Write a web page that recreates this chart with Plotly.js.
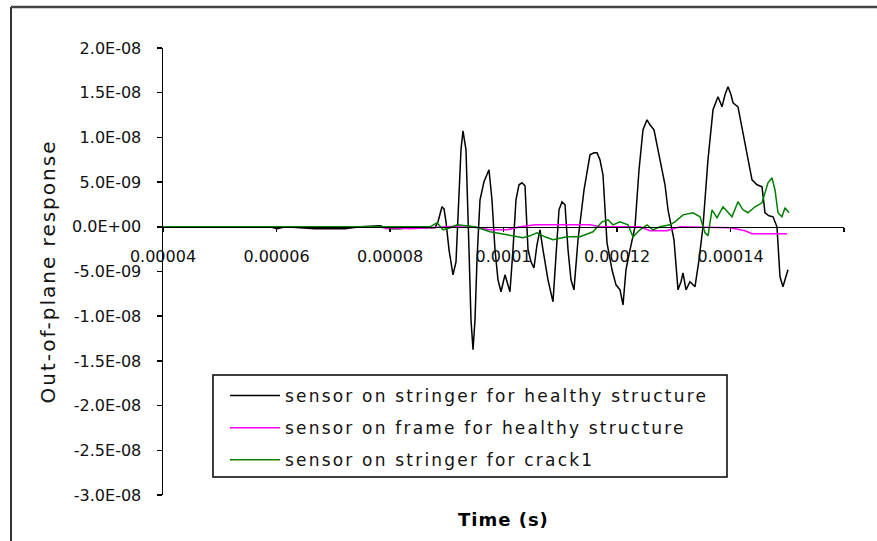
<!DOCTYPE html>
<html>
<head>
<meta charset="utf-8">
<script src="https://cdn.plot.ly/plotly-3.0.1.min.js"></script>
<style>
  html, body { margin: 0; padding: 0; background: #fff; }
  #chart { width: 877px; height: 541px; }
  .legendtext { letter-spacing: 2.2px; }
  text[data-unformatted="Out-of-plane response"] { letter-spacing: 2px; }
  text[data-unformatted="Time (s)"] { letter-spacing: 1px; }
</style>
</head>
<body>
<div id="chart"></div>
<script>
// Time in microseconds, response in units of 1e-9
const stringerHealthyTimeUs = [40.00, 58.85, 60.09, 61.50, 64.14, 66.78, 69.43, 72.07, 74.71, 76.83, 78.24, 80.00, 81.76, 83.52, 86.17, 87.93, 88.46, 89.16, 89.52, 89.87, 90.40, 91.10, 91.63, 92.16, 92.51, 92.86, 93.39, 93.92, 94.27, 94.63, 94.98, 95.33, 95.86, 96.56, 97.09, 97.44, 97.97, 98.50, 99.03, 99.56, 100.26, 100.79, 101.14, 101.67, 102.20, 102.73, 103.26, 103.79, 104.32, 104.85, 105.37, 105.90, 106.43, 106.96, 107.84, 108.72, 109.25, 109.78, 110.31, 110.84, 111.37, 111.89, 112.42, 113.13, 114.19, 115.24, 115.95, 116.48, 117.00, 117.53, 118.24, 119.12, 119.82, 120.53, 121.06, 121.58, 122.29, 123.17, 123.88, 124.58, 125.29, 125.81, 126.52, 127.22, 127.93, 128.46, 128.99, 129.52, 130.04, 130.75, 131.28, 131.63, 132.16, 132.86, 133.74, 134.45, 135.15, 136.03, 136.92, 137.80, 138.50, 139.03, 139.56, 140.09, 140.44, 141.32, 142.20, 143.08, 143.79, 144.67, 145.55, 146.08, 146.78, 147.49, 148.19, 148.72, 149.25, 149.60, 150.13];
const stringerHealthyResp = [0, 0, -0.22, 0, -0.11, -0.22, -0.22, -0.22, 0, 0.11, 0.11, -0.22, -0.22, -0.11, -0.11, -0.11, 0.56, 2.24, 2.01, 0.56, -2.57, -5.37, -3.92, 3.02, 8.61, 10.74, 8.61, -2.57, -10.40, -13.76, -10.40, -3.69, 3.02, 5.03, 5.82, 6.38, 3.02, -2.57, -5.93, -7.27, -5.37, -6.49, -7.27, -2.57, 3.02, 4.70, 4.92, 4.59, -2.57, -3.92, -4.59, -2.01, -0.34, -2.57, -5.93, -8.39, -3.69, 1.90, 2.80, 2.46, -2.57, -5.93, -7.05, -1.45, 4.14, 8.05, 8.28, 8.28, 7.49, 5.82, -1.79, -4.81, -6.49, -7.05, -8.73, -4.81, -2.57, 0, 6.38, 10.85, 11.97, 11.41, 10.85, 8.61, 6.38, 4.70, 1.90, 0.22, -1.45, -7.05, -6.15, -5.15, -7.05, -6.15, -6.71, -3.69, 0, 7.49, 13.09, 14.54, 13.42, 14.77, 15.66, 14.77, 13.87, 13.42, 10.51, 7.49, 5.26, 4.70, 4.47, 1.57, 1.23, 1.12, 0, -5.59, -6.71, -5.93, -4.81];

const frameHealthyTimeUs = [40.00, 78.24, 79.47, 80.88, 83.52, 86.17, 89.69, 93.22, 97.62, 100.62, 102.91, 105.55, 115.24, 117.00, 124.05, 125.81, 128.81, 131.10, 139.91, 142.56, 143.79, 149.96];
const frameHealthyResp = [0, 0, -0.22, -0.11, -0.22, -0.11, 0, 0.11, -0.34, -0.34, 0, 0.22, 0.22, 0, 0, -0.45, -0.45, 0, -0.11, -0.45, -0.78, -0.78];

const stringerCrackTimeUs = [40.00, 87.05, 88.29, 89.34, 90.57, 91.81, 94.98, 97.62, 100.62, 103.44, 104.67, 105.90, 107.31, 108.72, 111.19, 113.48, 115.77, 117.36, 118.41, 119.29, 120.53, 121.94, 122.82, 124.05, 125.29, 126.34, 127.58, 129.34, 130.22, 131.63, 133.39, 134.63, 135.51, 136.03, 136.74, 137.62, 138.68, 140.26, 141.32, 142.20, 143.08, 144.32, 145.55, 146.61, 147.31, 147.84, 148.37, 149.07, 149.60, 150.31];
const stringerCrackResp = [0, 0, 0.45, -0.34, -0.11, 0.22, 0, -0.56, -0.89, -1.23, -1.01, -0.67, -1.12, -1.45, -1.12, -1.12, -0.56, 0.56, 0.78, 0.22, 0.56, 0.22, -1.12, -0.34, 0.22, -0.34, 0, 0.22, 0.56, 1.34, 1.57, 1.12, -0.67, -1.01, 1.90, 1.01, 2.24, 1.12, 2.80, 1.90, 1.57, 2.24, 2.68, 4.92, 5.48, 4.14, 1.57, 1.12, 2.13, 1.57];

const seriesNames = ['sensor on stringer for healthy structure', 'sensor on frame for healthy structure', 'sensor on stringer for crack1'];
const seriesColors = ['#000000', '#ff00ff', '#008000'];

const yTickVals = [2e-8, 1.5e-8, 1e-8, 5e-9, 0, -5e-9, -1e-8, -1.5e-8, -2e-8, -2.5e-8, -3e-8];
const yTickText = ['2.0E-08', '1.5E-08', '1.0E-08', '5.0E-09', '0.0E+00', '-5.0E-09', '-1.0E-08', '-1.5E-08', '-2.0E-08', '-2.5E-08', '-3.0E-08'];
const xTickVals = [0.00004, 0.00006, 0.00008, 0.0001, 0.00012, 0.00014, 0.00016];
const xTickText = ['0.00004', '0.00006', '0.00008', '0.0001', '0.00012', '0.00014', '0.00016'];

const US = 1e-6, NANO = 1e-9;
const seriesT = [stringerHealthyTimeUs, frameHealthyTimeUs, stringerCrackTimeUs];
const seriesV = [stringerHealthyResp, frameHealthyResp, stringerCrackResp];

const traces = seriesNames.map((name, i) => ({
  type: 'scatter',
  mode: 'lines',
  name: name,
  legendgroup: 'g' + i,
  x: seriesT[i].map(t => t * US),
  y: seriesV[i].map(v => v * NANO),
  line: { color: seriesColors[i], width: 1.5 }
}));

const tickFont = { family: 'DejaVu Sans, sans-serif', size: 16, color: '#111' };

const layout = {
  width: 877,
  height: 541,
  margin: { l: 163, r: 33, t: 48, b: 46 },
  paper_bgcolor: '#ffffff',
  plot_bgcolor: '#ffffff',
  showlegend: true,
  xaxis: {
    range: [0.00004, 0.00016],
    anchor: 'free',
    position: 0.6,
    showgrid: false,
    zeroline: false,
    showline: true,
    linecolor: '#000',
    linewidth: 1.5,
    ticks: 'outside',
    ticklen: 4,
    tickwidth: 1.5,
    tickcolor: '#000',
    tickvals: xTickVals,
    ticktext: xTickText,
    tickfont: tickFont,
    ticklabelstandoff: 10
  },
  yaxis: {
    range: [-3e-8, 2e-8],
    showgrid: false,
    zeroline: false,
    showline: true,
    linecolor: '#000',
    linewidth: 1.5,
    ticks: 'outside',
    ticklen: 5,
    tickwidth: 1.5,
    tickcolor: '#000',
    tickvals: yTickVals,
    ticktext: yTickText,
    tickfont: tickFont,
    ticklabelstandoff: 12
  },
  legend: {
    x: 0.0910,
    y: 0.2617,
    xanchor: 'left',
    yanchor: 'top',
    bgcolor: 'rgba(0,0,0,0)',
    borderwidth: 0,
    font: { family: 'DejaVu Sans, sans-serif', size: 17, color: '#111' },
    tracegroupgap: 7,
    itemwidth: 50
  },
  annotations: [
    {
      text: 'Out-of-plane response',
      xref: 'paper', yref: 'paper',
      x: -0.1689, y: 0.5,
      xanchor: 'center', yanchor: 'middle',
      textangle: -90,
      showarrow: false,
      font: { family: 'DejaVu Sans, sans-serif', size: 20, color: '#111' }
    },
    {
      text: 'Time (s)',
      xref: 'paper', yref: 'paper',
      x: 0.5, y: -0.0537,
      xanchor: 'center', yanchor: 'middle',
      showarrow: false,
      font: { family: 'DejaVu Sans, sans-serif', size: 18, color: '#000', weight: 'bold' }
    }
  ],
  shapes: [
    { type: 'line', xref: 'paper', yref: 'paper', x0: -0.2232, x1: -0.2232, y0: -0.12, y1: 1.0917, line: { color: '#333', width: 2 } },
    { type: 'line', xref: 'paper', yref: 'paper', x0: -0.2232, x1: 1.06, y0: 1.0917, y1: 1.0917, line: { color: '#444', width: 2.5 } },
    { type: 'rect', xref: 'paper', yref: 'paper', layer: 'above', x0: 0.0734, x1: 0.8282, y0: 0.0403, y1: 0.2685, fillcolor: '#ffffff', line: { color: '#000', width: 1.5 } }
  ]
};

Plotly.newPlot('chart', traces, layout, { staticPlot: true, displayModeBar: false });
</script>
</body>
</html>
